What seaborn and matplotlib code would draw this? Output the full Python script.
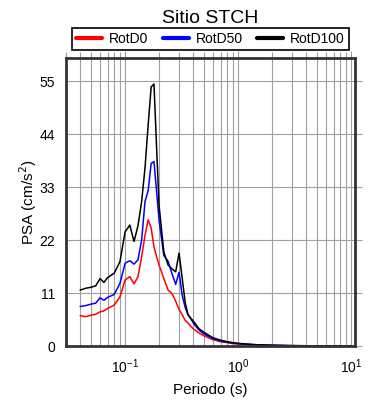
import matplotlib
matplotlib.use("Agg")
import matplotlib.pyplot as plt
import seaborn as sns
import pandas as pd
import numpy as np
from matplotlib.ticker import LogLocator, FixedLocator, NullFormatter

periods = [0.04, 0.045, 0.05, 0.055, 0.06, 0.065, 0.07, 0.08, 0.09, 0.10,
           0.11, 0.12, 0.13, 0.14, 0.15, 0.16, 0.17, 0.18, 0.19, 0.20,
           0.22, 0.24, 0.26, 0.28, 0.30, 0.32, 0.34, 0.36, 0.38, 0.40,
           0.45, 0.50, 0.60, 0.70, 0.80, 0.90, 1.0, 1.2, 1.5, 2.0,
           3.0, 4.0, 5.0, 7.5, 10.0]

rotd0 = [6.3, 6.1, 6.4, 6.6, 7.1, 7.3, 7.8, 8.5, 10.2, 13.7,
         14.4, 12.9, 14.4, 18.5, 23.0, 26.2, 24.5, 20.6, 18.5, 16.8,
         14.0, 11.6, 10.9, 9.3, 7.6, 6.5, 5.3, 4.8, 4.1, 3.6,
         2.7, 2.1, 1.3, 0.9, 0.7, 0.5, 0.4, 0.3, 0.2, 0.12,
         0.06, 0.04, 0.03, 0.015, 0.01]

rotd50 = [8.2, 8.4, 8.7, 8.9, 10.0, 9.5, 10.1, 10.7, 13.0, 17.2,
          17.7, 17.0, 17.9, 22.0, 30.0, 32.3, 37.9, 38.3, 32.0, 26.0,
          18.8, 17.6, 15.0, 12.8, 15.3, 10.5, 8.0, 6.5, 5.7, 4.8,
          3.3, 2.5, 1.5, 1.0, 0.8, 0.6, 0.5, 0.35, 0.22, 0.14,
          0.07, 0.05, 0.035, 0.02, 0.012]

rotd100 = [11.6, 12.0, 12.2, 12.5, 14.0, 13.2, 14.2, 15.1, 17.5, 23.7,
           25.1, 21.7, 25.0, 30.0, 37.0, 46.0, 53.8, 54.4, 41.0, 29.0,
           19.5, 16.8, 16.0, 15.4, 19.3, 14.0, 9.0, 6.5, 5.8, 5.2,
           3.6, 2.8, 1.7, 1.2, 0.9, 0.7, 0.55, 0.4, 0.25, 0.15,
           0.08, 0.05, 0.04, 0.02, 0.015]

series_names = ["RotD0", "RotD50", "RotD100"]
series_colors = ["#ff0000", "#0000ff", "#000000"]
y_ticks = [0, 11, 22, 33, 44, 55]

df = pd.concat([
    pd.DataFrame({"Periodo": periods, "PSA": vals, "Serie": name})
    for name, vals in zip(series_names, [rotd0, rotd50, rotd100])
], ignore_index=True)

sns.set_style("white")
plt.rcParams["font.family"] = ["Liberation Sans", "DejaVu Sans"]
plt.rcParams["text.color"] = "black"
plt.rcParams["axes.labelcolor"] = "black"
plt.rcParams["xtick.labelcolor"] = "black"
plt.rcParams["ytick.labelcolor"] = "black"

fig = plt.figure(figsize=(3.9, 4.0), dpi=100)
ax = fig.add_axes([66/390, 54/400, 289/390, 288/400])

sns.lineplot(data=df, x="Periodo", y="PSA", hue="Serie", hue_order=series_names,
             palette=dict(zip(series_names, series_colors)), linewidth=1.1,
             ax=ax, legend=False, sort=True, estimator=None)

ax.set_xscale("log")
ax.set_xlim(0.03, 10.8)
ax.set_ylim(0, 59.8)
ax.yaxis.set_major_locator(FixedLocator(y_ticks))
ax.xaxis.set_major_locator(LogLocator(base=10))
ax.xaxis.set_minor_locator(LogLocator(base=10, subs=np.arange(2, 10)))
ax.xaxis.set_minor_formatter(NullFormatter())

ax.grid(True, which="major", axis="both", color="#a0a0a0", linewidth=0.8)
ax.grid(True, which="minor", axis="x", color="#a0a0a0", linewidth=0.8)
ax.set_axisbelow(True)

ax.tick_params(which="both", direction="out", top=True, right=True,
               color="#a0a0a0", width=0.8, labelsize=10, pad=3,
               labelcolor="black")
ax.tick_params(which="major", length=5)
ax.tick_params(which="minor", length=4)

for s in ax.spines.values():
    s.set_visible(True)
    s.set_color("#333333")
    s.set_linewidth(2.0)

ax.set_xlabel("Periodo (s)", fontsize=11, labelpad=5, color="black")
ax.set_ylabel("PSA (cm/s$^2$)", fontsize=11, labelpad=0, color="black")
ax.set_title("Sitio STCH", fontsize=14, pad=25, color="black")

handles = [plt.Line2D([], [], color=c, linewidth=3) for c in series_colors]
leg = ax.legend(handles, series_names, loc="lower center",
                bbox_to_anchor=(0.5, 1.028),
                ncol=3, fontsize=10, frameon=True, fancybox=False,
                handlelength=1.9, handletextpad=0.5, borderaxespad=0,
                borderpad=0.3, columnspacing=1.0)
leg.get_frame().set_edgecolor("black")
leg.get_frame().set_linewidth(1.2)
leg.get_frame().set_alpha(1)

fig.savefig("out.png", dpi=100)
